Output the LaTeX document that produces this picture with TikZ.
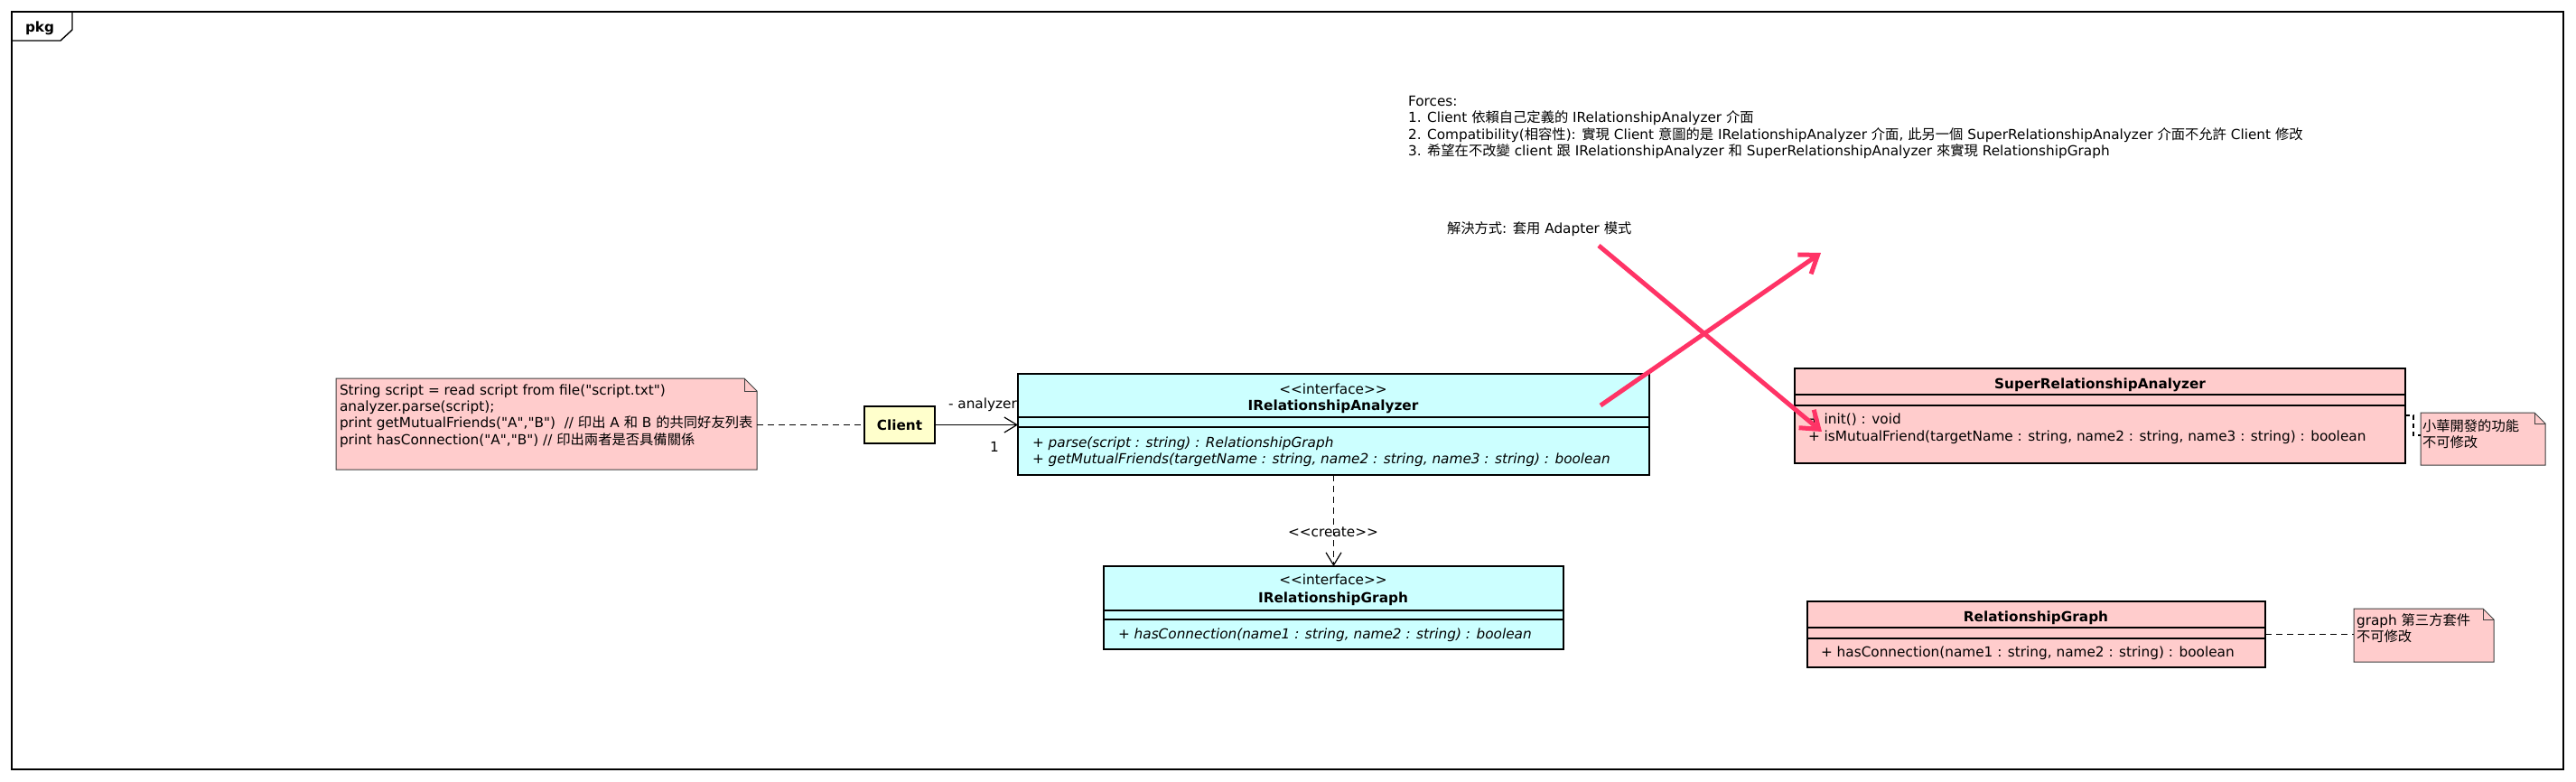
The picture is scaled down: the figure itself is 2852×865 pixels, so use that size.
\documentclass[tikz,border=0pt]{standalone}
\usepackage{fontspec}
\usetikzlibrary{arrows.meta}
\newfontfamily\lat{DejaVu Sans}[ItalicFont={DejaVu Sans Oblique},BoldFont={DejaVu Sans Bold},BoldItalicFont={DejaVu Sans Bold Oblique}]
\newfontfamily\cjk{Noto Sans CJK TC}
\newcommand{\zh}[1]{{\cjk #1}}
\definecolor{umlcyan}{HTML}{CCFFFF}
\definecolor{umlpink}{HTML}{FFCCCC}
\definecolor{umlyellow}{HTML}{FFFFCC}
\definecolor{hot}{HTML}{FF3366}
\newcommand{\notedraw}[2]{%
  \draw[notepath] (#1.north west) -- ([xshift=-#2pt]#1.north east) -- ([yshift=-#2pt]#1.north east) -- (#1.south east) -- (#1.south west) -- cycle;
  \draw[notepath,fill=none] ([xshift=-#2pt]#1.north east) |- ([yshift=-#2pt]#1.north east);}
\begin{document}
\begin{tikzpicture}[x=1pt,y=-1pt,
  txt/.style={inner sep=0pt,outer sep=0pt,font=\lat\fontsize{15.3}{18.3}\selectfont},
  classbox/.style={draw,line width=2.6pt,inner sep=0pt,outer sep=0pt,anchor=north west},
  notebox/.style={inner sep=0pt,outer sep=0pt,anchor=north west},
  notepath/.style={draw=black!75,line width=1pt,fill=umlpink},
  comp/.style={line width=1.2pt},
  dashline/.style={line width=1.2pt,dash pattern=on 7pt off 5pt},
  umlarrow/.style={-{Straight Barb[length=14pt,width=17pt]}},
  hotarrow/.style={draw=hot,line width=5pt,-{Straight Barb[length=18pt,width=26pt]}}]
\useasboundingbox (0,0) rectangle (2852,865);
\fill[white] (0,0) rectangle (2852,865);

% frame
\node[draw,line width=1.4pt,inner sep=0pt,outer sep=0pt,anchor=north west,minimum width=2825pt,minimum height=839pt] (frame) at (13,13) {};
\draw[line width=1.4pt] ([yshift=-32pt]frame.north west) -- ([xshift=54pt,yshift=-32pt]frame.north west) -- ([xshift=67pt,yshift=-20pt]frame.north west) -- ([xshift=67pt]frame.north west);
\node[txt,anchor=base west,font=\lat\bfseries\fontsize{15.3}{18.3}\selectfont] (pkg) at (28,35) {pkg};

% forces text
\node[txt,anchor=base west] (f0) at (1559,117) {Forces:};
\node[txt,anchor=base west] (f1) at (1559,135) {1. Client \zh{依賴自己定義的} IRelationshipAnalyzer \zh{介面}};
\node[txt,anchor=base west] (f2) at (1559,154) {2. Compatibility(\zh{相容性}): \zh{實現} Client \zh{意圖的是} IRelationshipAnalyzer \zh{介面}, \zh{此另一個} SuperRelationshipAnalyzer \zh{介面不允許} Client \zh{修改}};
\node[txt,anchor=base west] (f3) at (1559,172) {3. \zh{希望在不改變} client \zh{跟} IRelationshipAnalyzer \zh{和} SuperRelationshipAnalyzer \zh{來實現} RelationshipGraph};
\node[txt,anchor=base west] (sol) at (1602,258) {\zh{解決方式}: \zh{套用} Adapter \zh{模式}};

% code note
\node[notebox,minimum width=466pt,minimum height=101pt] (n1) at (372,419) {};
\notedraw{n1}{14}
\node[txt,anchor=base west] (n1a) at (376,437) {String script = read script from file("script.txt")};
\node[txt,anchor=base west] (n1b) at (376,455) {analyzer.parse(script);};
\node[txt,anchor=base west] (n1c) at (376,473) {print getMutualFriends("A","B")\ \ // \zh{印出} A \zh{和} B \zh{的共同好友列表}};
\node[txt,anchor=base west] (n1d) at (376,492) {print hasConnection("A","B") // \zh{印出兩者是否具備關係}};

% association label (behind box)
\node[txt,anchor=base west] (lanalyzer) at (1050,452) {- analyzer};
\node[txt,anchor=base] (lone) at (1101,500) {1};
\node[txt,anchor=base] (lcreate) at (1476,594) {<<create>>};

% classes
\node[classbox,fill=umlyellow,minimum width=78pt,minimum height=41pt,font=\lat\bfseries\fontsize{15.3}{18.3}\selectfont] (client) at (957,450) {Client};

\node[classbox,fill=umlcyan,minimum width=699pt,minimum height=112pt] (ira) at (1127,414) {};
\draw[comp] ([yshift=-48pt]ira.north west) -- ([yshift=-48pt]ira.north east);
\draw[comp] ([yshift=-59pt]ira.north west) -- ([yshift=-59pt]ira.north east);
\node[txt,anchor=base] (iras) at (1476,436) {<<interface>>};
\node[txt,anchor=base,font=\lat\bfseries\fontsize{15.3}{18.3}\selectfont] (iran) at (1476,454) {IRelationshipAnalyzer};
\node[txt,anchor=base west] (iram1) at (1143,495) {\itshape + parse(script : string) : RelationshipGraph};
\node[txt,anchor=base west] (iram2) at (1143,513) {\itshape + getMutualFriends(targetName : string, name2 : string, name3 : string) : boolean};

\node[classbox,fill=umlcyan,minimum width=509pt,minimum height=92pt] (irg) at (1222,627) {};
\draw[comp] ([yshift=-49pt]irg.north west) -- ([yshift=-49pt]irg.north east);
\draw[comp] ([yshift=-59pt]irg.north west) -- ([yshift=-59pt]irg.north east);
\node[txt,anchor=base] (irgs) at (1476,647) {<<interface>>};
\node[txt,anchor=base,font=\lat\bfseries\fontsize{15.3}{18.3}\selectfont] (irgn) at (1476,667) {IRelationshipGraph};
\node[txt,anchor=base west] (irgm1) at (1238,707) {\itshape + hasConnection(name1 : string, name2 : string) : boolean};

\node[classbox,fill=umlpink,minimum width=676pt,minimum height=105pt] (sra) at (1987,408) {};
\draw[comp] ([yshift=-29pt]sra.north west) -- ([yshift=-29pt]sra.north east);
\draw[comp] ([yshift=-41pt]sra.north west) -- ([yshift=-41pt]sra.north east);
\node[txt,anchor=base,font=\lat\bfseries\fontsize{15.3}{18.3}\selectfont] (sran) at (2325,430) {SuperRelationshipAnalyzer};
\node[txt,anchor=base west] (sram1) at (2002,469) {+ init() : void};
\node[txt,anchor=base west] (sram2) at (2002,488) {+ isMutualFriend(targetName : string, name2 : string, name3 : string) : boolean};

\node[classbox,fill=umlpink,minimum width=507pt,minimum height=73pt] (rg) at (2001,666) {};
\draw[comp] ([yshift=-29pt]rg.north west) -- ([yshift=-29pt]rg.north east);
\draw[comp] ([yshift=-41pt]rg.north west) -- ([yshift=-41pt]rg.north east);
\node[txt,anchor=base,font=\lat\bfseries\fontsize{15.3}{18.3}\selectfont] (rgn) at (2254,688) {RelationshipGraph};
\node[txt,anchor=base west] (rgm1) at (2016,727) {+ hasConnection(name1 : string, name2 : string) : boolean};

% side notes
\node[notebox,minimum width=138pt,minimum height=58pt] (n2) at (2680,457) {};
\notedraw{n2}{12}
\node[txt,anchor=base west] (n2a) at (2682,477) {\zh{小華開發的功能}};
\node[txt,anchor=base west] (n2b) at (2682,495) {\zh{不可修改}};

\node[notebox,minimum width=155pt,minimum height=59pt] (n3) at (2606,674) {};
\notedraw{n3}{12}
\node[txt,anchor=base west] (n3a) at (2609,692) {graph \zh{第三方套件}};
\node[txt,anchor=base west] (n3b) at (2609,710) {\zh{不可修改}};

% connectors
\draw[dashline] (n1.east |- client.west) -- (client.west);
\draw[line width=1.2pt,umlarrow] (client.east) -- (client.east -| ira.west);
\draw[dashline,umlarrow] (ira.south) -- (irg.north);
\draw[line width=1.2pt,dash pattern=on 5pt off 4pt] ([yshift=-52pt]sra.north east) -| ([xshift=-8pt,yshift=-25pt]n2.north west) -- ([yshift=-25pt]n2.north west);
\draw[dashline] (rg.east) -- (rg.east -| n3.west);

% annotation arrows
\coordinate (a1s) at (1770,272);
\coordinate (a1e) at (2017,478);
\coordinate (a2s) at (1772,449);
\coordinate (a2e) at (2016,280);
\draw[hotarrow] (a1s) -- (a1e);
\draw[hotarrow] (a2s) -- (a2e);
\end{tikzpicture}
\end{document}
